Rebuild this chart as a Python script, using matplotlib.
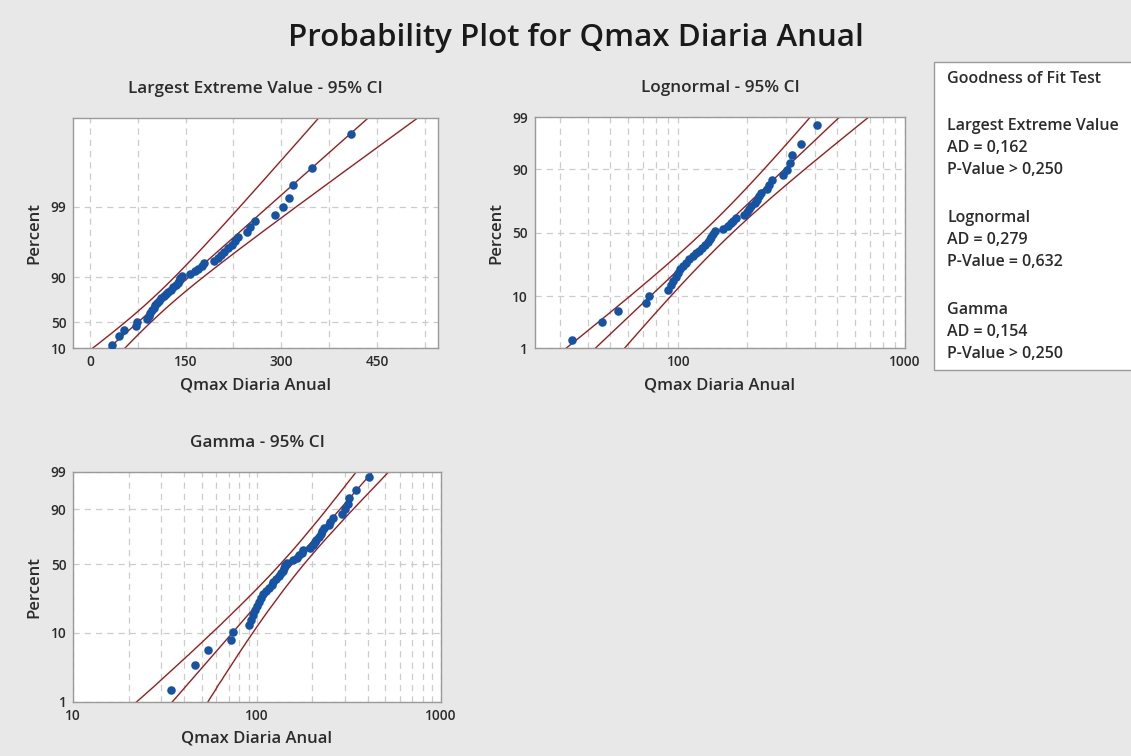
import math
import numpy as np
import matplotlib
matplotlib.use("Agg")
import matplotlib.pyplot as plt
from matplotlib.patches import Rectangle

# annual maximum daily flow (sorted)
qmax = [34, 46, 54, 72, 74, 90, 93, 95, 98, 100,
        102, 105, 108, 112, 116, 120, 123, 127, 131, 135,
        138, 140, 142, 145, 157, 165, 170, 175, 179, 195,
        201, 206, 210, 217, 222, 227, 232, 246, 251, 259,
        290, 302, 312, 318, 348, 409]

panel_titles = ["Largest Extreme Value - 95% CI", "Lognormal - 95% CI", "Gamma - 95% CI"]
fit_names = ["Largest Extreme Value", "Lognormal", "Gamma"]
ad_values = ["0,162", "0,279", "0,154"]
p_texts = ["> 0,250", "= 0,632", "> 0,250"]

lev_ticks = [1, 10, 50, 90]
lev_labels = ["10", "50", "90", "99"]
pct_ticks = [1, 10, 50, 90, 99]

BG = "#e8e8e8"
DOT = "#1554a4"
RED = "#9b1c1c"
GRID = "#cccccc"
TXT = "#2b2b2b"
FONT = ["Open Sans", "DejaVu Sans"]
plt.rcParams["font.family"] = FONT

x = np.array(qmax, dtype=float)
n = len(x)
ranks = np.arange(1, n + 1)
pp = (ranks - 0.3) / (n + 0.4) * 100  # median ranks (Benard)


# ---- helper special functions -------------------------------------------
def digamma(v):
    r = 0.0
    while v < 6:
        r -= 1 / v
        v += 1
    f = 1 / (v * v)
    return r + math.log(v) - 0.5 / v - f * (1 / 12 - f * (1 / 120 - f * (1 / 252 - f * (1 / 240 - f / 132))))


def trigamma(v):
    r = 0.0
    while v < 6:
        r += 1 / (v * v)
        v += 1
    return r + 1 / v + 1 / (2 * v ** 2) + 1 / (6 * v ** 3) - 1 / (30 * v ** 5) + 1 / (42 * v ** 7) - 1 / (30 * v ** 9)


def gammainc(a, t):
    if t <= 0:
        return 0.0
    lead = math.exp(-t + a * math.log(t) - math.lgamma(a))
    if t < a + 1:
        ap, s = a, 1.0 / a
        d = s
        for _ in range(1000):
            ap += 1
            d *= t / ap
            s += d
            if abs(d) < abs(s) * 1e-14:
                break
        return s * lead
    b = t + 1 - a
    c = 1e300
    d = 1 / b
    h = d
    for i in range(1, 1000):
        an = -i * (i - a)
        b += 2
        d = an * d + b
        d = d if abs(d) > 1e-300 else 1e-300
        c = b + an / c
        c = c if abs(c) > 1e-300 else 1e-300
        d = 1 / d
        h *= d * c
        if abs(d * c - 1) < 1e-14:
            break
    return 1 - lead * h


# lookup tables for the probability scales
zgrid = np.linspace(-6, 6, 4001)
zcdf = np.array([0.5 * (1 + math.erf(v / math.sqrt(2))) for v in zgrid]) * 100


def norm_fwd(p):
    return np.interp(np.asarray(p, float), zcdf, zgrid)


def norm_inv(z):
    return np.interp(np.asarray(z, float), zgrid, zcdf)


def lev_fwd(p):
    p = np.clip(np.asarray(p, float), 1e-9, 100 - 1e-9) / 100
    return -np.log(-np.log(p))


def lev_inv(y):
    return 100 * np.exp(-np.exp(-np.asarray(y, float)))


def gamma_table(k):
    lg = np.linspace(-6, 3.5, 3001)
    cdf = np.array([gammainc(k, math.exp(v)) for v in lg]) * 100
    return lg, cdf


# ---- fits -----------------------------------------------------------------
zc = 1.959964
pgrid = np.linspace(0.2, 99.8, 500)

# lognormal (ML)
lx = np.log(x)
mu_ln = lx.mean()
sd_ln = math.sqrt(((lx - mu_ln) ** 2).mean())
zq = norm_fwd(pgrid)
ln_mid = mu_ln + zq * sd_ln
ln_se = sd_ln * np.sqrt((1 + zq ** 2 / 2) / n)

# largest extreme value (ML)
beta = x.std() * math.sqrt(6) / math.pi
for _ in range(500):
    w = np.exp(-x / beta)
    beta = x.mean() - (x * w).sum() / w.sum()
mu_ev = -beta * math.log(np.exp(-x / beta).mean())
yq = lev_fwd(pgrid)
ev_mid = mu_ev + beta * yq
ev_se = beta * np.sqrt((1.1087 + 0.5140 * yq + 0.6079 * yq ** 2) / n)

# gamma (ML)
s = math.log(x.mean()) - lx.mean()
k = (3 - s + math.sqrt((s - 3) ** 2 + 24 * s)) / (12 * s)
for _ in range(50):
    k -= (math.log(k) - digamma(k) - s) / (1 / k - trigamma(k))
theta = x.mean() / k
g_lg, g_cdf = gamma_table(k)
dk = 1e-3
lg_hi, cdf_hi = gamma_table(k + dk)
lg_lo, cdf_lo = gamma_table(k - dk)
dlq = (np.interp(pgrid, cdf_hi, lg_hi) - np.interp(pgrid, cdf_lo, lg_lo)) / (2 * dk)
lq = np.interp(pgrid, g_cdf, g_lg)
info = np.array([[trigamma(k), 1.0], [1.0, k]])
cov = np.linalg.inv(info) / n
g_var = dlq ** 2 * cov[0, 0] + 2 * dlq * cov[0, 1] + cov[1, 1]
g_mid = math.log(theta) + lq
g_se = np.sqrt(g_var)


def gam_fwd(p):
    return np.interp(np.asarray(p, float), g_cdf, g_lg)


def gam_inv(y):
    return np.interp(np.asarray(y, float), g_lg, g_cdf)


# ---- figure ---------------------------------------------------------------
fig = plt.figure(figsize=(11.31, 7.56), dpi=100, facecolor=BG)
fig.text(0.509, 0.950, "Probability Plot for Qmax Diaria Anual", ha="center", va="center",
         fontsize=22.5, fontweight="semibold", color="#1a1a1a")

ax1 = fig.add_axes([0.0648, 0.5393, 0.3227, 0.3042])
ax2 = fig.add_axes([0.4730, 0.5393, 0.3271, 0.3056])
ax3 = fig.add_axes([0.0648, 0.0718, 0.3248, 0.3042])


def style(ax, title):
    ax.set_facecolor("white")
    for sp in ax.spines.values():
        sp.set_color("#9a9a9a")
        sp.set_linewidth(1.0)
    ax.set_title(title, fontsize=12.3, fontweight="semibold", color=TXT, pad=18)
    ax.set_xlabel("Qmax Diaria Anual", fontsize=12, fontweight="semibold", color=TXT, labelpad=6)
    ax.set_ylabel("Percent", fontsize=12, fontweight="semibold", color=TXT, labelpad=6)
    ax.tick_params(which="both", length=0, labelsize=9.8, labelcolor=TXT, pad=5)
    for lab in ax.get_xticklabels() + ax.get_yticklabels():
        lab.set_fontweight("semibold")
    ax.grid(True, which="both", color=GRID, linestyle=(0, (5, 4)), linewidth=0.9)
    ax.set_axisbelow(True)


def draw_fit(ax, mid, se, transform):
    for off in (0, -zc, zc):
        ax.plot(transform(mid + off * se), pgrid, color=RED, lw=1.0)
    ax.scatter(x, pp, s=38, color=DOT, zorder=3, linewidths=0)


# panel 1: largest extreme value
ax1.set_yscale("function", functions=(lev_fwd, lev_inv))
draw_fit(ax1, ev_mid, ev_se, lambda v: v)
ax1.set_xlim(-26, 546)
ax1.set_ylim(1, 99)
ax1.set_xticks([0, 150, 300, 450])
ax1.set_xticks(np.arange(75, 546, 150), minor=True)
ax1.set_yticks(lev_ticks)
ax1.set_yticklabels(lev_labels)
ax1.set_yticks([], minor=True)
style(ax1, panel_titles[0])

# panel 2: lognormal
ax2.set_xscale("log")
ax2.set_yscale("function", functions=(norm_fwd, norm_inv))
draw_fit(ax2, ln_mid, ln_se, np.exp)
ax2.set_xlim(23.3, 1000)
ax2.set_ylim(1, 99)
ax2.set_xticks([100, 1000])
ax2.set_xticklabels(["100", "1000"])
ax2.set_xticks([30, 40, 50, 60, 70, 80, 90, 200, 300, 400, 500, 600, 700, 800, 900], minor=True)
ax2.xaxis.set_minor_formatter(plt.NullFormatter())
ax2.set_yticks(pct_ticks)
ax2.set_yticklabels([str(t) for t in pct_ticks])
ax2.set_yticks([], minor=True)
style(ax2, panel_titles[1])

# panel 3: gamma
ax3.set_xscale("log")
ax3.set_yscale("function", functions=(gam_fwd, gam_inv))
draw_fit(ax3, g_mid, g_se, np.exp)
ax3.set_xlim(10, 1000)
ax3.set_ylim(1, 99)
ax3.set_xticks([10, 100, 1000])
ax3.set_xticklabels(["10", "100", "1000"])
ax3.set_xticks([20, 30, 40, 50, 60, 70, 80, 90, 200, 300, 400, 500, 600, 700, 800, 900], minor=True)
ax3.xaxis.set_minor_formatter(plt.NullFormatter())
ax3.set_yticks(pct_ticks)
ax3.set_yticklabels([str(t) for t in pct_ticks])
ax3.set_yticks([], minor=True)
style(ax3, panel_titles[2])

# goodness of fit box
fig.patches.append(Rectangle((0.8258, 0.5106), 0.2, 0.4078, transform=fig.transFigure,
                             facecolor="white", edgecolor="#9a9a9a", lw=1.0))
lines = [("Goodness of Fit Test", 79)]
y0 = 126
for name, ad, pv in zip(fit_names, ad_values, p_texts):
    lines += [(name, y0), ("AD = " + ad, y0 + 22), ("P-Value " + pv, y0 + 44)]
    y0 += 92
for txt, ypix in lines:
    fig.text(947 / 1131, 1 - ypix / 756, txt, ha="left", va="center", fontsize=11.5,
             fontweight="semibold", color=TXT)

fig.savefig("out.png", dpi=100, facecolor=BG)
